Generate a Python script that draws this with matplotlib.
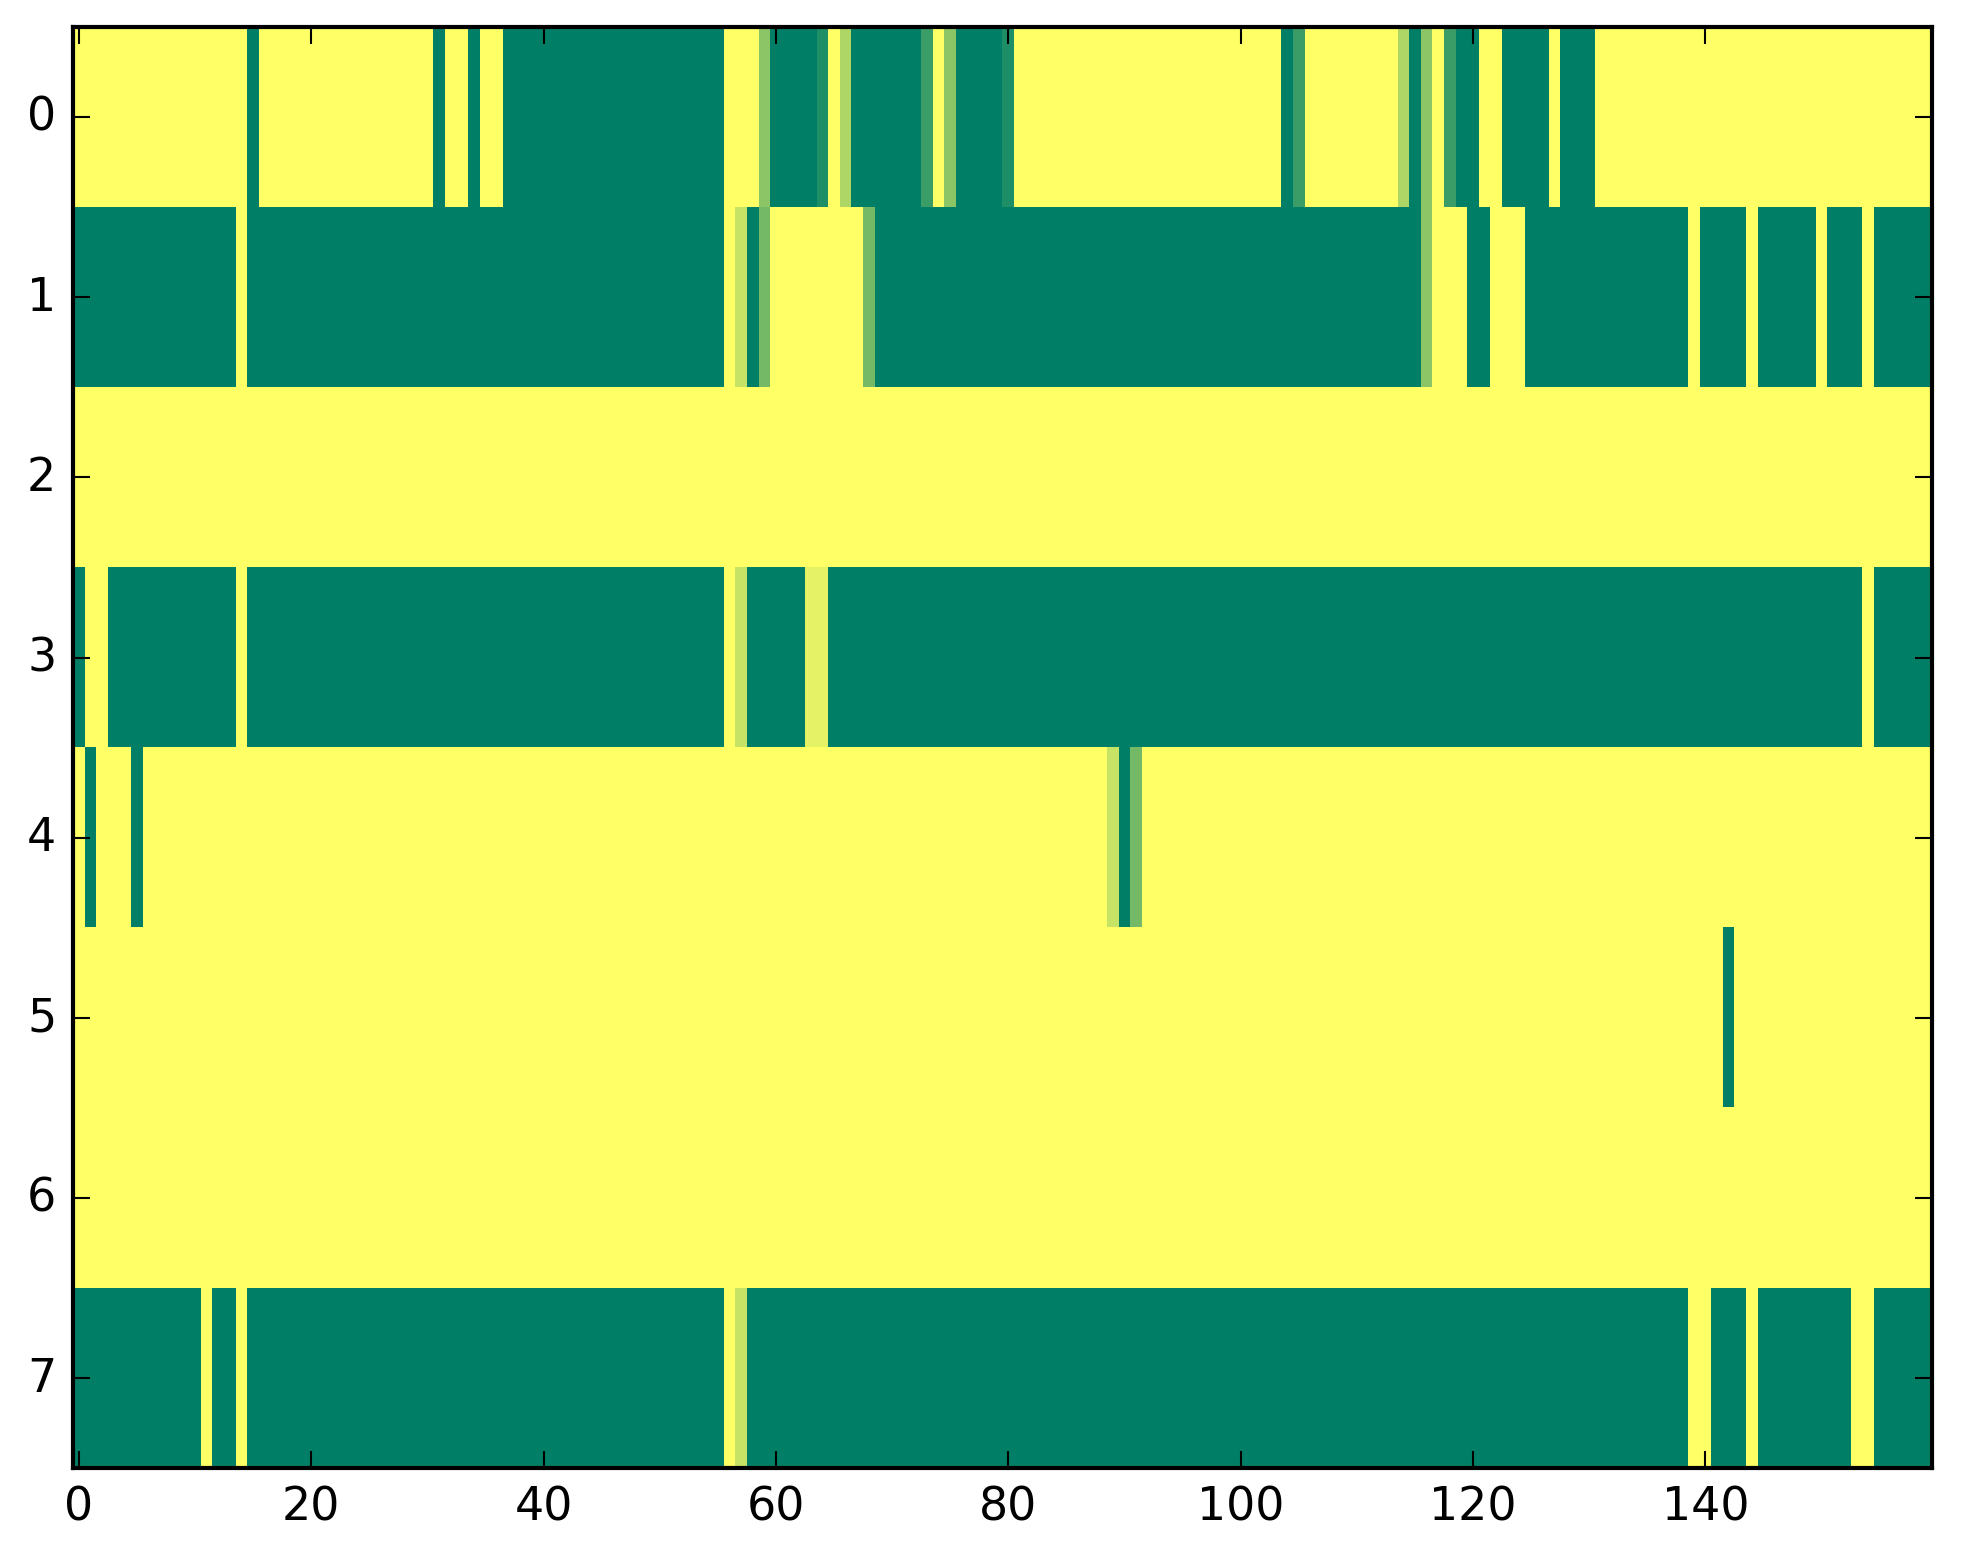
import numpy as np
import matplotlib
matplotlib.use("Agg")
from matplotlib import pyplot as plt

# each row stored as (value, run length) pairs, left to right
row0 = [(1, 15), (0, 1), (1, 15), (0, 1), (1, 2), (0, 1), (1, 2), (0, 19), (1, 3),
        (0.55, 1), (0, 4), (0.12, 1), (1, 1), (0.68, 1), (0, 6), (0.23, 1), (1, 1),
        (0.55, 1), (0, 4), (0.12, 1), (1, 23), (0, 1), (0.23, 1), (1, 8), (0.68, 1),
        (0, 1), (0.55, 1), (1, 1), (0.23, 1), (0, 2), (1, 2), (0, 4), (1, 1), (0, 3),
        (1, 29)]
row1 = [(0, 14), (1, 1), (0, 41), (1, 1), (0.78, 1), (0, 1), (0.45, 1), (1, 8),
        (0.45, 1), (0, 47), (0.55, 1), (1, 3), (0, 2), (1, 3), (0, 14), (1, 1), (0, 4),
        (1, 1), (0, 5), (1, 1), (0, 3), (1, 1), (0, 5)]
row2 = [(1, 160)]
row3 = [(0, 1), (1, 2), (0, 11), (1, 1), (0, 41), (1, 1), (0.78, 1), (0, 5), (0.9, 2),
        (0, 89), (1, 1), (0, 5)]
row4 = [(1, 1), (0, 1), (1, 3), (0, 1), (1, 83), (0.78, 1), (0, 1), (0.45, 1), (1, 68)]
row5 = [(1, 142), (0, 1), (1, 17)]
row6 = [(1, 160)]
row7 = [(0, 11), (1, 1), (0, 2), (1, 1), (0, 41), (1, 1), (0.78, 1), (0, 81), (1, 2),
        (0, 3), (1, 1), (0, 8), (1, 2), (0, 5)]

rows = [row0, row1, row2, row3, row4, row5, row6, row7]


def expand(runs):
    vals, counts = zip(*runs)
    return np.repeat(vals, counts)


data = np.array([expand(r) for r in rows])

plt.style.use('classic')
plt.rcParams['font.size'] = 11

fig = plt.figure(figsize=(1963 / 300, 1564 / 300), dpi=300)
ax = fig.add_axes([0.0372, 0.0607, 0.9470, 0.9213])
ax.imshow(data, cmap='summer', vmin=0, vmax=1, interpolation='nearest', aspect='auto')
ax.set_xlim(-0.5, data.shape[1] - 0.5)
ax.set_ylim(data.shape[0] - 0.5, -0.5)
ax.set_xticks(np.arange(0, 160, 20))
ax.set_yticks(np.arange(0, 8))

fig.savefig('out.png', dpi=300, facecolor='white')
